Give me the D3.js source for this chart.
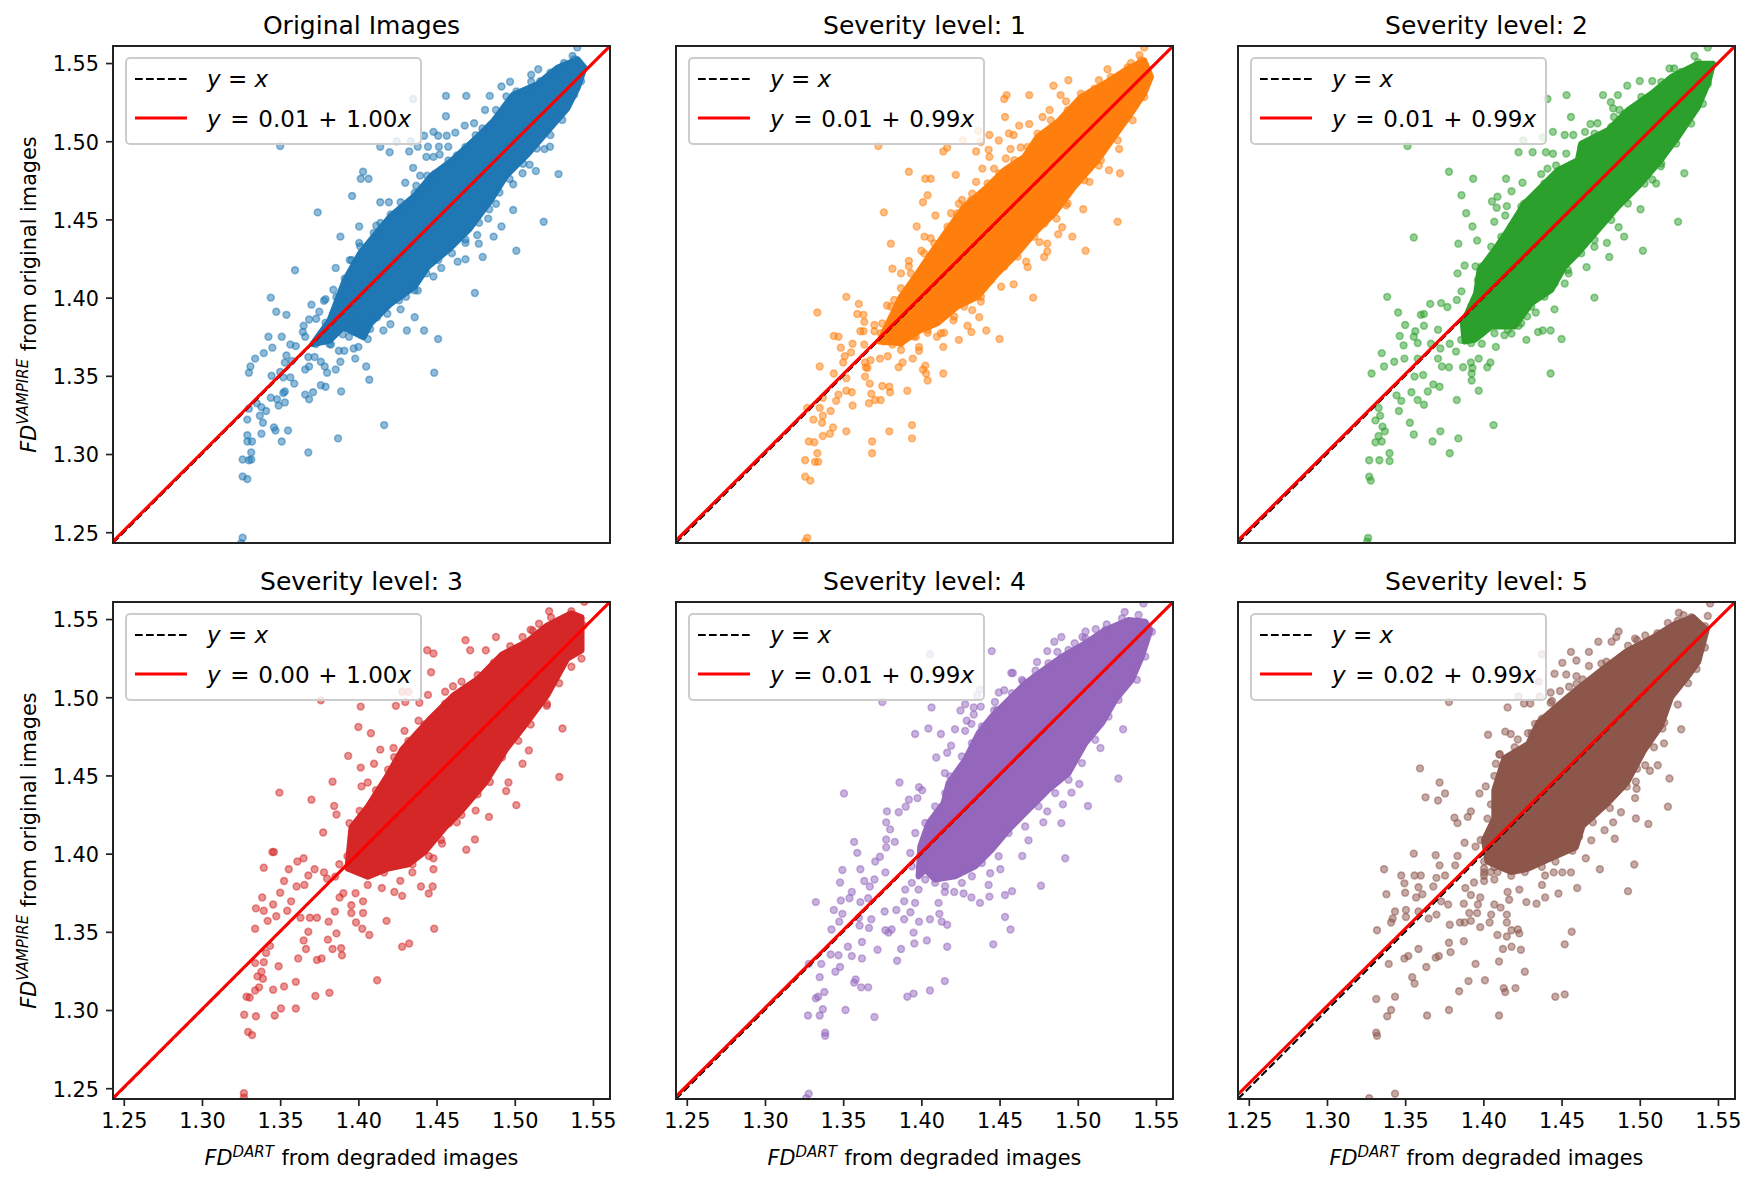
<!DOCTYPE html>
<html>
<head>
<meta charset="utf-8">
<title>FD scatter panels</title>
<script src="https://cdn.jsdelivr.net/npm/d3@7/dist/d3.min.js"></script>
<style>
  html, body { margin: 0; background: #fff; }
  text { font-family: "DejaVu Sans", sans-serif; fill: #000; }
</style>
</head>
<body>
<div id="chart"></div>
<script>
const titles = ["Original Images", "Severity level: 1", "Severity level: 2", "Severity level: 3", "Severity level: 4", "Severity level: 5"];
const colors = ["#1f77b4", "#ff7f0e", "#2ca02c", "#d62728", "#9467bd", "#8c564b"];
const tickValues = [1.25, 1.30, 1.35, 1.40, 1.45, 1.50, 1.55];
const axisLimits = [1.2431, 1.5609];

// fitted line for each panel, and what its legend says
const fitIntercepts = [0.005, 0.0079, 0.0079, 0.002, 0.0079, 0.0148];
const fitSlopes = [0.9968, 0.9949, 0.9949, 0.9988, 0.9949, 0.9905];
const fitLabels = [["0.01", "1.00"], ["0.01", "0.99"], ["0.01", "0.99"], ["0.00", "1.00"], ["0.01", "0.99"], ["0.02", "0.99"]];

// Outline of the solid part of each cloud: too many
// overlapping dots there to read one by one.
const cloudOriginal = [[1.3707,1.3703],[1.3815,1.3853],[1.3913,1.4112],[1.4011,1.4284],[1.4098,1.4392],[1.4207,1.4522],[1.4359,1.4651],[1.4467,1.478],[1.4598,1.4877],[1.475,1.5017],[1.4859,1.5125],[1.4989,1.5297],[1.5141,1.5362],[1.5272,1.547],[1.5402,1.5524],[1.5446,1.547],[1.5402,1.5341],[1.5337,1.5211],[1.5207,1.506],[1.5076,1.4909],[1.4946,1.478],[1.4837,1.4608],[1.4707,1.4435],[1.4576,1.4306],[1.4446,1.4198],[1.4359,1.4069],[1.4207,1.3961],[1.4076,1.3832],[1.4033,1.3746],[1.3902,1.381],[1.3815,1.3724]];
const cloudLevel1 = [[1.373,1.3719],[1.3869,1.4006],[1.3975,1.4155],[1.4061,1.4283],[1.4167,1.4432],[1.4274,1.4581],[1.4423,1.4709],[1.453,1.4815],[1.4658,1.49],[1.4743,1.5028],[1.4871,1.5123],[1.502,1.5283],[1.5169,1.5368],[1.5319,1.5464],[1.5425,1.5517],[1.5468,1.5411],[1.5425,1.5304],[1.534,1.5177],[1.5233,1.5028],[1.5127,1.4879],[1.4978,1.4709],[1.485,1.4538],[1.4722,1.4411],[1.4615,1.4283],[1.4487,1.4155],[1.4359,1.4006],[1.4231,1.3943],[1.4103,1.3836],[1.3997,1.3794],[1.3869,1.3709]];
const cloudLevel2 = [[1.388,1.3719],[1.3869,1.3836],[1.3954,1.4028],[1.3975,1.4177],[1.4071,1.4304],[1.4157,1.4432],[1.4263,1.4602],[1.437,1.4709],[1.4477,1.4815],[1.4604,1.4879],[1.4626,1.4985],[1.4796,1.507],[1.4924,1.5198],[1.5074,1.5304],[1.5202,1.5411],[1.5372,1.5496],[1.5468,1.5496],[1.5436,1.5368],[1.5372,1.5219],[1.5244,1.5028],[1.5116,1.4857],[1.4988,1.4709],[1.486,1.4581],[1.4732,1.4432],[1.4604,1.4283],[1.4519,1.4198],[1.4434,1.4049],[1.4306,1.3964],[1.4199,1.3815],[1.405,1.3815],[1.3943,1.373]];
const cloudLevel3 = [[1.393,1.3905],[1.3956,1.4168],[1.406,1.43],[1.4177,1.4484],[1.4281,1.4668],[1.445,1.4853],[1.4607,1.5011],[1.4763,1.5116],[1.4919,1.5274],[1.5076,1.5353],[1.5206,1.5458],[1.5362,1.5537],[1.5427,1.5511],[1.5427,1.53],[1.5336,1.5247],[1.5206,1.5011],[1.5049,1.48],[1.4945,1.4668],[1.4815,1.4458],[1.4659,1.4274],[1.4555,1.4168],[1.4424,1.4011],[1.432,1.3932],[1.419,1.3905],[1.406,1.3853]];
const cloudLevel4 = [[1.3982,1.3855],[1.3993,1.4047],[1.4046,1.4196],[1.4142,1.4323],[1.4174,1.4451],[1.428,1.46],[1.4366,1.477],[1.4451,1.4877],[1.4579,1.5004],[1.4664,1.5089],[1.475,1.5153],[1.4899,1.526],[1.5048,1.5345],[1.5176,1.543],[1.5325,1.5494],[1.5432,1.5483],[1.5464,1.543],[1.541,1.526],[1.5346,1.5111],[1.524,1.4983],[1.5155,1.4834],[1.5048,1.4706],[1.4941,1.4515],[1.4813,1.4409],[1.4664,1.426],[1.4558,1.4153],[1.4451,1.4026],[1.4344,1.3919],[1.4216,1.3855],[1.4088,1.3834],[1.4025,1.3898]];
const cloudLevel5 = [[1.4026,1.395],[1.4004,1.4087],[1.407,1.4224],[1.407,1.4406],[1.4135,1.4611],[1.4287,1.4702],[1.4352,1.4839],[1.4483,1.4953],[1.4591,1.5044],[1.4765,1.5181],[1.4917,1.5295],[1.5091,1.5386],[1.5222,1.5466],[1.5341,1.5512],[1.5428,1.5432],[1.5374,1.5227],[1.5309,1.5136],[1.52,1.4999],[1.5135,1.4816],[1.5026,1.4657],[1.4917,1.4452],[1.4787,1.4315],[1.4635,1.4178],[1.4591,1.4041],[1.4439,1.3973],[1.4287,1.3904],[1.4178,1.3882]];

// Dots that can be told apart, around the clouds
const dotsOriginal = [[1.326,1.2465],[1.325,1.243],[1.326,1.2856],[1.329,1.284],[1.326,1.2965],[1.3315,1.2965],[1.33,1.296],[1.3315,1.301],[1.368,1.301],[1.329,1.312],[1.332,1.308],[1.329,1.308],[1.387,1.31],[1.338,1.313],[1.351,1.308],[1.355,1.315],[1.347,1.315],[1.346,1.317],[1.329,1.322],[1.339,1.32],[1.337,1.3245],[1.4165,1.3185],[1.341,1.3275],[1.338,1.33],[1.335,1.3325],[1.33,1.329],[1.344,1.336],[1.348,1.335],[1.349,1.331],[1.353,1.333],[1.352,1.339],[1.353,1.34],[1.366,1.338],[1.3685,1.335],[1.371,1.3395],[1.376,1.344],[1.379,1.343],[1.389,1.34],[1.407,1.3475],[1.4485,1.352],[1.359,1.345],[1.3565,1.349],[1.352,1.349],[1.3445,1.35],[1.35,1.3525],[1.33,1.352],[1.331,1.356],[1.334,1.361],[1.3395,1.3645],[1.345,1.368],[1.366,1.354],[1.3685,1.356],[1.38,1.352],[1.3785,1.356],[1.3855,1.354],[1.3885,1.359],[1.405,1.356],[1.398,1.361],[1.376,1.359],[1.372,1.362],[1.368,1.362],[1.354,1.363],[1.353,1.3585],[1.3575,1.3595],[1.3425,1.375],[1.351,1.375],[1.3565,1.37],[1.36,1.369],[1.451,1.3735],[1.442,1.379],[1.431,1.379],[1.436,1.3875],[1.344,1.4],[1.3475,1.391],[1.354,1.389],[1.3595,1.4175],[1.37,1.3955],[1.378,1.398],[1.379,1.399],[1.384,1.405],[1.3855,1.419],[1.365,1.382],[1.3685,1.386],[1.3645,1.378],[1.366,1.375],[1.373,1.3865],[1.375,1.391],[1.379,1.384],[1.3885,1.439],[1.374,1.4545],[1.396,1.465],[1.4005,1.4455],[1.403,1.4805],[1.4015,1.476],[1.4065,1.476],[1.414,1.461],[1.4195,1.461],[1.427,1.461],[1.4115,1.446],[1.4005,1.435],[1.3945,1.424],[1.35,1.497],[1.414,1.4965],[1.42,1.493],[1.435,1.527],[1.4245,1.5],[1.4335,1.5],[1.456,1.529],[1.469,1.529],[1.484,1.529],[1.456,1.516],[1.4915,1.535],[1.497,1.538],[1.5105,1.5425],[1.515,1.546],[1.5105,1.538],[1.54,1.56],[1.537,1.5545],[1.5315,1.55],[1.481,1.52],[1.474,1.5115],[1.468,1.51],[1.462,1.5055],[1.4565,1.5035],[1.448,1.506],[1.451,1.5035],[1.442,1.5035],[1.438,1.4965],[1.4325,1.4935],[1.4445,1.4965],[1.4515,1.4965],[1.4435,1.49],[1.448,1.49],[1.452,1.4915],[1.4575,1.4965],[1.435,1.483],[1.4395,1.478],[1.444,1.478],[1.43,1.4735],[1.437,1.4715],[1.436,1.467],[1.528,1.479],[1.5185,1.4485],[1.499,1.456],[1.501,1.43],[1.4915,1.4455],[1.4865,1.439],[1.4795,1.426],[1.4745,1.403],[1.477,1.4345],[1.476,1.44],[1.483,1.4505],[1.4685,1.4245],[1.4635,1.423],[1.453,1.419],[1.448,1.4135],[1.4685,1.435],[1.488,1.46],[1.5135,1.481],[1.5095,1.485],[1.505,1.4795],[1.499,1.4725],[1.5225,1.4965],[1.519,1.495],[1.438,1.4045],[1.4305,1.4005],[1.427,1.3925],[1.4205,1.383],[1.416,1.379],[1.406,1.3735],[1.4,1.3685],[1.397,1.3675],[1.391,1.366],[1.3875,1.366],[1.3825,1.37],[1.4075,1.38],[1.401,1.381],[1.39,1.3765],[1.394,1.375]];
const dotsLevel1 = [[1.327,1.2464],[1.3257,1.244],[1.3257,1.2855],[1.329,1.283],[1.3257,1.296],[1.332,1.295],[1.334,1.295],[1.3335,1.3005],[1.328,1.308],[1.3315,1.3075],[1.337,1.3115],[1.3415,1.313],[1.3435,1.317],[1.352,1.3145],[1.3685,1.308],[1.3685,1.3005],[1.3795,1.3145],[1.394,1.3185],[1.394,1.31],[1.331,1.322],[1.3365,1.32],[1.337,1.3245],[1.335,1.3295],[1.342,1.3275],[1.327,1.3295],[1.3455,1.334],[1.347,1.338],[1.352,1.3405],[1.3555,1.3395],[1.356,1.331],[1.337,1.336],[1.3665,1.3325],[1.3705,1.3345],[1.374,1.3345],[1.368,1.3385],[1.375,1.3435],[1.3795,1.343],[1.38,1.3395],[1.391,1.3405],[1.367,1.345],[1.364,1.3495],[1.3645,1.3555],[1.3655,1.355],[1.3675,1.36],[1.3735,1.361],[1.3785,1.3625],[1.388,1.3585],[1.3855,1.3555],[1.3945,1.361],[1.3985,1.366],[1.401,1.354],[1.4025,1.3565],[1.403,1.3515],[1.404,1.347],[1.414,1.3515],[1.352,1.3485],[1.344,1.3515],[1.335,1.356],[1.35,1.3585],[1.351,1.3625],[1.355,1.365],[1.3485,1.368],[1.356,1.3705],[1.3635,1.37],[1.364,1.3585],[1.344,1.3755],[1.347,1.375],[1.361,1.3785],[1.363,1.3785],[1.3335,1.3905],[1.352,1.4005],[1.36,1.396],[1.359,1.3895],[1.363,1.389],[1.3635,1.3845],[1.37,1.3825],[1.37,1.3785],[1.378,1.395],[1.375,1.3835],[1.3805,1.4345],[1.376,1.4545],[1.397,1.4455],[1.3815,1.4185],[1.392,1.4235],[1.392,1.42],[1.387,1.4155],[1.4,1.43],[1.402,1.439],[1.406,1.438],[1.401,1.461],[1.404,1.4655],[1.392,1.4805],[1.4025,1.476],[1.406,1.476],[1.422,1.4785],[1.409,1.4525],[1.3725,1.497],[1.414,1.4935],[1.4165,1.496],[1.435,1.4935],[1.4265,1.5005],[1.4365,1.5065],[1.438,1.4995],[1.453,1.527],[1.4545,1.5295],[1.469,1.5295],[1.4535,1.5155],[1.4845,1.5355],[1.494,1.539],[1.489,1.5295],[1.4925,1.5255],[1.482,1.52],[1.4775,1.5155],[1.469,1.511],[1.4625,1.51],[1.456,1.505],[1.459,1.504],[1.4435,1.504],[1.4495,1.5005],[1.443,1.4945],[1.4435,1.49],[1.454,1.489],[1.457,1.495],[1.4635,1.496],[1.439,1.4825],[1.4465,1.4825],[1.435,1.474],[1.4325,1.4665],[1.426,1.4625],[1.424,1.46],[1.419,1.454],[1.5135,1.539],[1.519,1.546],[1.5395,1.555],[1.5425,1.56],[1.534,1.55],[1.5255,1.4485],[1.505,1.43],[1.5035,1.4565],[1.4965,1.439],[1.4875,1.4405],[1.49,1.445],[1.4865,1.4505],[1.4805,1.4345],[1.4805,1.4295],[1.4785,1.426],[1.4755,1.4355],[1.4715,1.4],[1.468,1.4195],[1.467,1.423],[1.459,1.4085],[1.451,1.407],[1.527,1.4795],[1.52,1.4815],[1.5265,1.495],[1.5135,1.4845],[1.5075,1.474],[1.4925,1.459],[1.45,1.3735],[1.4415,1.379],[1.437,1.3875],[1.438,1.3975],[1.432,1.378],[1.4295,1.382],[1.424,1.373],[1.414,1.3685],[1.4205,1.3855],[1.4145,1.3775],[1.3985,1.3685],[1.387,1.3665],[1.3815,1.37],[1.376,1.372],[1.41,1.375],[1.404,1.3775],[1.3965,1.375],[1.4325,1.392]];
const dotsLevel2 = [[1.3263,1.2464],[1.3257,1.244],[1.327,1.2855],[1.328,1.283],[1.327,1.296],[1.3335,1.296],[1.34,1.2955],[1.34,1.3005],[1.3785,1.3005],[1.331,1.3075],[1.335,1.308],[1.333,1.3115],[1.337,1.3145],[1.3355,1.3175],[1.3675,1.308],[1.3725,1.3145],[1.384,1.31],[1.3555,1.3125],[1.353,1.32],[1.4065,1.3185],[1.331,1.3215],[1.334,1.3245],[1.333,1.3295],[1.346,1.3275],[1.3475,1.334],[1.3445,1.3375],[1.354,1.3395],[1.358,1.3345],[1.362,1.3315],[1.3645,1.34],[1.368,1.3445],[1.372,1.343],[1.383,1.3345],[1.397,1.3405],[1.3925,1.347],[1.3925,1.3515],[1.393,1.355],[1.443,1.3515],[1.3285,1.3515],[1.3365,1.356],[1.343,1.359],[1.335,1.3645],[1.3495,1.361],[1.358,1.361],[1.356,1.3495],[1.3615,1.3505],[1.371,1.361],[1.3735,1.356],[1.378,1.3555],[1.387,1.3555],[1.392,1.3585],[1.397,1.361],[1.4025,1.3555],[1.4045,1.3585],[1.408,1.3685],[1.399,1.3705],[1.3465,1.3755],[1.349,1.3695],[1.358,1.371],[1.3555,1.375],[1.3565,1.3785],[1.35,1.3825],[1.362,1.382],[1.3455,1.3905],[1.3385,1.4005],[1.36,1.389],[1.362,1.3895],[1.366,1.396],[1.373,1.3965],[1.377,1.394],[1.371,1.3795],[1.3665,1.3705],[1.3725,1.3675],[1.3785,1.3705],[1.3825,1.3655],[1.45,1.3735],[1.443,1.379],[1.438,1.379],[1.435,1.378],[1.4275,1.373],[1.4455,1.3925],[1.4335,1.3905],[1.428,1.388],[1.4225,1.382],[1.418,1.377],[1.4135,1.376],[1.471,1.4],[1.466,1.4195],[1.4545,1.4155],[1.452,1.409],[1.4805,1.426],[1.471,1.4325],[1.479,1.435],[1.49,1.439],[1.4865,1.445],[1.502,1.43],[1.5245,1.4485],[1.5005,1.4565],[1.5285,1.4795],[1.5105,1.473],[1.508,1.4755],[1.5135,1.484],[1.3555,1.4385],[1.378,1.4805],[1.3935,1.476],[1.386,1.4655],[1.389,1.454],[1.393,1.4455],[1.384,1.4345],[1.396,1.4365],[1.3835,1.4155],[1.388,1.4205],[1.395,1.42],[1.383,1.3985],[1.386,1.404],[1.407,1.4485],[1.4055,1.4615],[1.409,1.4645],[1.4085,1.4575],[1.4145,1.476],[1.425,1.4735],[1.418,1.468],[1.415,1.4585],[1.414,1.4525],[1.426,1.46],[1.3515,1.497],[1.4225,1.493],[1.4315,1.493],[1.44,1.493],[1.4445,1.492],[1.4255,1.5005],[1.438,1.5025],[1.441,1.527],[1.4532,1.5295],[1.4765,1.5295],[1.486,1.5295],[1.4815,1.525],[1.483,1.521],[1.487,1.52],[1.456,1.5155],[1.492,1.5355],[1.5,1.5385],[1.508,1.5385],[1.535,1.5545],[1.5435,1.56],[1.4445,1.506],[1.452,1.504],[1.4575,1.504],[1.465,1.506],[1.4685,1.511],[1.473,1.5115],[1.4835,1.5155],[1.441,1.4825],[1.437,1.479],[1.4465,1.4845],[1.519,1.5465],[1.522,1.5465]];
const dotsLevel3 = [[1.3268,1.2468],[1.3268,1.244],[1.3295,1.286],[1.332,1.284],[1.327,1.297],[1.3345,1.296],[1.3465,1.2965],[1.3505,1.301],[1.36,1.301],[1.3285,1.3085],[1.3305,1.308],[1.334,1.3125],[1.3365,1.3145],[1.3455,1.313],[1.3525,1.315],[1.36,1.318],[1.3725,1.309],[1.3815,1.311],[1.412,1.319],[1.3355,1.3215],[1.339,1.32],[1.338,1.3245],[1.334,1.33],[1.3395,1.3305],[1.349,1.328],[1.3615,1.333],[1.3665,1.339],[1.3735,1.332],[1.3765,1.333],[1.3835,1.339],[1.389,1.3395],[1.3895,1.335],[1.3805,1.345],[1.386,1.349],[1.365,1.3445],[1.368,1.35],[1.381,1.3565],[1.3985,1.356],[1.4025,1.352],[1.407,1.348],[1.418,1.357],[1.428,1.3405],[1.4325,1.3425],[1.4485,1.352],[1.3435,1.341],[1.341,1.3365],[1.334,1.352],[1.342,1.357],[1.3345,1.365],[1.3395,1.3635],[1.3385,1.372],[1.3455,1.3675],[1.3475,1.36],[1.3545,1.3635],[1.363,1.359],[1.369,1.359],[1.3735,1.359],[1.385,1.363],[1.3955,1.362],[1.403,1.362],[1.35,1.375],[1.3525,1.3825],[1.3605,1.379],[1.357,1.3695],[1.3655,1.38],[1.3395,1.391],[1.345,1.401],[1.346,1.401],[1.3555,1.39],[1.361,1.395],[1.365,1.397],[1.368,1.386],[1.372,1.39],[1.378,1.388],[1.3495,1.439],[1.37,1.4345],[1.3775,1.4135],[1.3835,1.446],[1.3935,1.4625],[1.4,1.481],[1.408,1.477],[1.376,1.498],[1.4015,1.494],[1.3845,1.4305],[1.386,1.425],[1.4015,1.455],[1.402,1.443],[1.41,1.4575],[1.406,1.4455],[1.414,1.4665],[1.4225,1.4675],[1.4295,1.4785],[1.424,1.4945],[1.43,1.497],[1.428,1.5035],[1.432,1.5035],[1.4385,1.485],[1.444,1.53],[1.448,1.528],[1.4465,1.516],[1.4445,1.5015],[1.439,1.4965],[1.4685,1.5365],[1.4715,1.53],[1.488,1.5385],[1.4815,1.53],[1.466,1.51],[1.4605,1.507],[1.4555,1.5035],[1.522,1.555],[1.5445,1.561],[1.505,1.5385],[1.5115,1.5425],[1.5155,1.547],[1.5285,1.449],[1.5305,1.48],[1.509,1.466],[1.505,1.4575],[1.501,1.431],[1.4945,1.44],[1.496,1.4455],[1.4835,1.4235],[1.4745,1.409],[1.469,1.4025],[1.475,1.4275],[1.463,1.42],[1.4535,1.4065],[1.448,1.397],[1.448,1.39],[1.4475,1.379],[1.445,1.3745],[1.44,1.379],[1.4345,1.388],[1.428,1.373],[1.423,1.3755],[1.415,1.378],[1.403,1.3695],[1.3955,1.367],[1.388,1.372],[1.5205,1.4945]];
const dotsLevel4 = [[1.328,1.2465],[1.3263,1.2436],[1.3385,1.2855],[1.3385,1.2835],[1.3275,1.2965],[1.335,1.2965],[1.337,1.3005],[1.3515,1.3],[1.37,1.2955],[1.3325,1.3075],[1.334,1.3085],[1.338,1.3115],[1.391,1.3085],[1.395,1.3105],[1.4055,1.3125],[1.415,1.3185],[1.357,1.3175],[1.358,1.3195],[1.3615,1.3145],[1.366,1.3145],[1.335,1.321],[1.345,1.3245],[1.348,1.3275],[1.336,1.3295],[1.328,1.3295],[1.342,1.3355],[1.347,1.335],[1.3555,1.3345],[1.362,1.333],[1.353,1.3405],[1.362,1.3435],[1.372,1.3385],[1.387,1.339],[1.3845,1.3315],[1.3955,1.3425],[1.4035,1.3445],[1.4165,1.3405],[1.446,1.342],[1.457,1.3515],[1.4535,1.3595],[1.4765,1.3795],[1.492,1.397],[1.4895,1.4195],[1.5065,1.4305],[1.526,1.448],[1.529,1.4795],[1.5145,1.4675],[1.501,1.4445],[1.496,1.439],[1.4905,1.4315],[1.4805,1.427],[1.478,1.42],[1.4685,1.4085],[1.4645,1.3985],[1.4535,1.3735],[1.458,1.376],[1.444,1.3875],[1.4505,1.39],[1.443,1.38],[1.4435,1.3725],[1.4375,1.3685],[1.432,1.372],[1.427,1.3745],[1.421,1.3755],[1.415,1.3755],[1.411,1.3685],[1.4115,1.3615],[1.4165,1.3545],[1.413,1.3565],[1.4055,1.358],[1.3985,1.3565],[1.395,1.3495],[1.379,1.3495],[1.377,1.351],[1.381,1.3515],[1.3665,1.3525],[1.368,1.358],[1.36,1.359],[1.3605,1.354],[1.3765,1.363],[1.384,1.364],[1.389,1.358],[1.393,1.3625],[1.396,1.3685],[1.389,1.3695],[1.3425,1.3515],[1.3475,1.3565],[1.3495,1.3615],[1.344,1.364],[1.3325,1.369],[1.3485,1.37],[1.354,1.3715],[1.3555,1.3755],[1.348,1.3815],[1.3495,1.3895],[1.361,1.39],[1.3635,1.3825],[1.367,1.379],[1.37,1.3835],[1.361,1.369],[1.366,1.3715],[1.357,1.4075],[1.359,1.4005],[1.3505,1.4385],[1.386,1.4455],[1.3705,1.395],[1.3735,1.398],[1.377,1.388],[1.3775,1.404],[1.3775,1.409],[1.383,1.4075],[1.3775,1.42],[1.38,1.4155],[1.378,1.427],[1.3855,1.4265],[1.392,1.4345],[1.39,1.43],[1.3975,1.4355],[1.3985,1.4425],[1.4005,1.4405],[1.4095,1.4615],[1.396,1.4765],[1.4045,1.48],[1.4125,1.4765],[1.4215,1.4795],[1.428,1.4785],[1.419,1.469],[1.4165,1.4645],[1.415,1.4515],[1.375,1.497],[1.4065,1.4935],[1.425,1.4915],[1.428,1.4955],[1.4335,1.4935],[1.4335,1.489],[1.438,1.494],[1.429,1.485],[1.432,1.483],[1.4465,1.4915],[1.4055,1.5275],[1.445,1.5295],[1.4375,1.505],[1.4355,1.501],[1.4495,1.503],[1.453,1.5045],[1.447,1.497],[1.4575,1.5155],[1.4585,1.5155],[1.465,1.51],[1.474,1.5225],[1.473,1.517],[1.4805,1.5295],[1.485,1.5355],[1.4895,1.5385],[1.487,1.529],[1.4925,1.526],[1.498,1.5345],[1.503,1.5385],[1.505,1.542],[1.5115,1.5435],[1.5185,1.5465],[1.53,1.5545],[1.542,1.56]];
const dotsLevel5 = [[1.3435,1.2465],[1.327,1.2436],[1.3315,1.2855],[1.332,1.2835],[1.3315,1.307],[1.3435,1.3085],[1.341,1.3],[1.3385,1.296],[1.364,1.2965],[1.378,1.3],[1.41,1.2965],[1.3845,1.312],[1.3905,1.3185],[1.401,1.319],[1.413,1.314],[1.414,1.3115],[1.4205,1.314],[1.446,1.3085],[1.452,1.31],[1.4265,1.3245],[1.41,1.331],[1.395,1.3295],[1.3635,1.3275],[1.3545,1.321],[1.356,1.317],[1.3395,1.3295],[1.3495,1.333],[1.352,1.3345],[1.3695,1.3335],[1.3715,1.3345],[1.3585,1.339],[1.379,1.337],[1.378,1.343],[1.3875,1.344],[1.4125,1.339],[1.418,1.3405],[1.424,1.3385],[1.452,1.342],[1.4565,1.35],[1.409,1.348],[1.415,1.347],[1.423,1.349],[1.422,1.3515],[1.418,1.351],[1.332,1.351],[1.341,1.356],[1.342,1.3585],[1.3435,1.363],[1.3505,1.364],[1.3505,1.3595],[1.365,1.3585],[1.3585,1.363],[1.37,1.361],[1.3785,1.3545],[1.385,1.356],[1.388,1.356],[1.391,1.362],[1.396,1.362],[1.398,1.353],[1.392,1.357],[1.404,1.356],[1.405,1.361],[1.415,1.361],[1.415,1.356],[1.338,1.374],[1.35,1.375],[1.3475,1.386],[1.3495,1.381],[1.3365,1.39],[1.356,1.386],[1.36,1.386],[1.3585,1.3785],[1.357,1.372],[1.361,1.374],[1.368,1.379],[1.37,1.3845],[1.373,1.3695],[1.3775,1.3675],[1.3875,1.368],[1.3965,1.3675],[1.398,1.372],[1.407,1.3675],[1.411,1.3655],[1.4165,1.3705],[1.4275,1.369],[1.434,1.368],[1.4395,1.372],[1.3555,1.4],[1.3695,1.399],[1.372,1.3925],[1.3755,1.386],[1.382,1.3925],[1.3835,1.3985],[1.388,1.407],[1.395,1.4045],[1.3595,1.4545],[1.372,1.4455],[1.3755,1.4385],[1.363,1.436],[1.371,1.434],[1.3815,1.423],[1.3835,1.4195],[1.39,1.4235],[1.392,1.427],[1.3975,1.4385],[1.4015,1.443],[1.403,1.476],[1.414,1.478],[1.4175,1.4765],[1.408,1.4575],[1.4105,1.4635],[1.418,1.459],[1.422,1.473],[1.4285,1.477],[1.433,1.483],[1.378,1.497],[1.4155,1.4935],[1.426,1.496],[1.43,1.496],[1.4225,1.5005],[1.436,1.5005],[1.4355,1.51],[1.4375,1.5275],[1.4455,1.515],[1.4505,1.522],[1.456,1.529],[1.4595,1.5235],[1.4675,1.52],[1.4675,1.529],[1.453,1.5145],[1.4595,1.5135],[1.4595,1.5085],[1.443,1.503],[1.449,1.504],[1.443,1.4965],[1.4735,1.5355],[1.482,1.5355],[1.4865,1.542],[1.485,1.5385],[1.4755,1.5215],[1.4925,1.533],[1.497,1.5375],[1.5035,1.5395],[1.518,1.5475],[1.525,1.554],[1.528,1.5525],[1.545,1.56],[1.5435,1.552],[1.5265,1.4795],[1.519,1.448],[1.518,1.43],[1.5055,1.419],[1.4975,1.4225],[1.497,1.4355],[1.498,1.4415],[1.4975,1.446],[1.5065,1.453],[1.5115,1.4565],[1.5035,1.4565],[1.5155,1.4705],[1.5145,1.48],[1.488,1.4265],[1.483,1.42],[1.4775,1.415],[1.484,1.4095],[1.4965,1.393],[1.4925,1.376],[1.4745,1.39],[1.469,1.4085],[1.4655,1.397],[1.46,1.378],[1.456,1.388],[1.4505,1.388],[1.448,1.3745],[1.445,1.388],[1.4395,1.386],[1.4375,1.38],[1.423,1.377],[1.4155,1.3755],[1.407,1.3835],[1.4005,1.3825],[1.4005,1.388],[1.394,1.3815],[1.3885,1.378],[1.392,1.3735],[1.4005,1.395],[1.407,1.3915]];

// Dots sticking out of the edge of each cloud
const edgeOriginal = [[1.4207,1.4532],[1.4261,1.4554],[1.4315,1.4597],[1.438,1.4651],[1.4435,1.4705],[1.4489,1.4791],[1.4576,1.4877],[1.463,1.4909],[1.4685,1.4963],[1.475,1.5039],[1.4793,1.5082],[1.488,1.52],[1.4946,1.5287],[1.5011,1.5319],[1.5087,1.533],[1.5163,1.5384],[1.5228,1.5438],[1.5315,1.5481],[1.538,1.5524],[1.5424,1.5384],[1.538,1.5297],[1.5304,1.5136],[1.5228,1.5039],[1.5141,1.4953],[1.5054,1.4856],[1.4967,1.4759],[1.4902,1.4672],[1.4837,1.4565],[1.4772,1.4478],[1.4685,1.4371],[1.4598,1.4284],[1.4511,1.4241],[1.4435,1.4155],[1.4359,1.4047],[1.4261,1.3983],[1.4185,1.3897],[1.412,1.3875],[1.4033,1.381],[1.3946,1.381],[1.3859,1.3789],[1.3815,1.3703],[1.3728,1.3703],[1.3989,1.3875],[1.3859,1.4004],[1.3913,1.4123],[1.3957,1.4241],[1.4011,1.4328],[1.4098,1.4414],[1.4141,1.4478]];
const edgeLevel1 = [[1.3869,1.406],[1.3933,1.4155],[1.4018,1.4283],[1.4082,1.4347],[1.4167,1.4453],[1.4231,1.4538],[1.4317,1.4623],[1.4423,1.473],[1.4498,1.4794],[1.4594,1.4879],[1.4679,1.4964],[1.4743,1.5049],[1.4828,1.5134],[1.4935,1.5198],[1.502,1.5304],[1.5106,1.5336],[1.5212,1.5411],[1.5319,1.5474],[1.5404,1.5517],[1.5457,1.5411],[1.5425,1.5283],[1.5351,1.5134],[1.5255,1.5006],[1.5148,1.4879],[1.5042,1.4751],[1.4935,1.4602],[1.4786,1.4474],[1.4722,1.4389],[1.4615,1.4262],[1.453,1.4198],[1.4445,1.4113],[1.4381,1.4006],[1.4274,1.3943],[1.421,1.3879],[1.4125,1.3772],[1.404,1.3794],[1.3954,1.3751],[1.3869,1.3709],[1.3784,1.3751],[1.3741,1.3772],[1.3805,1.3943],[1.3826,1.3985]];
const edgeLevel2 = [[1.3922,1.3943],[1.3965,1.4113],[1.3987,1.4198],[1.405,1.4326],[1.4114,1.4389],[1.4178,1.4453],[1.4242,1.4581],[1.4306,1.4602],[1.4391,1.473],[1.4477,1.4804],[1.453,1.4921],[1.4626,1.4964],[1.4711,1.5049],[1.4818,1.5091],[1.4903,1.5177],[1.501,1.5283],[1.5138,1.5379],[1.5265,1.5443],[1.5372,1.5506],[1.5457,1.5485],[1.5436,1.5368],[1.5404,1.524],[1.5329,1.5113],[1.5233,1.4985],[1.5138,1.4857],[1.5031,1.473],[1.4924,1.4602],[1.4818,1.4496],[1.4711,1.4368],[1.4626,1.4283],[1.454,1.4177],[1.4455,1.4091],[1.4391,1.4006],[1.4306,1.3943],[1.4242,1.3836],[1.4157,1.3794],[1.4071,1.3772],[1.3986,1.3772],[1.3922,1.3709],[1.3858,1.373],[1.388,1.3815]];
const edgeLevel3 = [[1.3956,1.401],[1.3943,1.4195],[1.4008,1.4274],[1.4112,1.4405],[1.419,1.4537],[1.4229,1.4616],[1.432,1.4721],[1.4424,1.4826],[1.4555,1.4958],[1.4659,1.5037],[1.4763,1.5142],[1.4867,1.5221],[1.4971,1.5326],[1.5102,1.5432],[1.5232,1.5511],[1.5362,1.555],[1.544,1.5458],[1.5427,1.5247],[1.5362,1.5195],[1.5284,1.5089],[1.5206,1.4958],[1.5102,1.4826],[1.5023,1.4721],[1.4919,1.4616],[1.4841,1.4458],[1.4763,1.4379],[1.4659,1.4247],[1.4581,1.4195],[1.4529,1.4089],[1.4451,1.3984],[1.4346,1.3932],[1.4268,1.3826],[1.4164,1.3879],[1.406,1.38],[1.3982,1.3747],[1.3904,1.3747],[1.3852,1.3853],[1.38,1.384],[1.3878,1.3932],[1.393,1.3984]];
const edgeLevel4 = [[1.3929,1.4004],[1.3961,1.4132],[1.4025,1.4196],[1.4088,1.4302],[1.4152,1.4387],[1.4184,1.4494],[1.4259,1.4621],[1.4323,1.4706],[1.4387,1.4813],[1.4483,1.4919],[1.4579,1.5026],[1.4643,1.5111],[1.4728,1.5132],[1.4813,1.5217],[1.4941,1.5302],[1.5048,1.5377],[1.5176,1.543],[1.5283,1.5504],[1.5389,1.5526],[1.5474,1.5419],[1.5432,1.526],[1.5378,1.5111],[1.5261,1.4983],[1.5197,1.4877],[1.5112,1.4728],[1.5027,1.4579],[1.4941,1.4472],[1.4856,1.4387],[1.4749,1.4302],[1.4664,1.4174],[1.4558,1.4132],[1.4494,1.3983],[1.4387,1.394],[1.4323,1.3855],[1.4259,1.3813],[1.4152,1.3791],[1.4088,1.3813],[1.4025,1.3834],[1.3982,1.377],[1.3939,1.3813],[1.3897,1.377],[1.3939,1.3919]];
const edgeLevel5 = [[1.4004,1.3905],[1.3983,1.4087],[1.4026,1.4224],[1.4048,1.4315],[1.407,1.4497],[1.4102,1.4634],[1.42,1.468],[1.4309,1.4771],[1.4374,1.4862],[1.4439,1.4976],[1.4548,1.5067],[1.4635,1.5113],[1.4787,1.5227],[1.4874,1.525],[1.4983,1.5364],[1.5113,1.5409],[1.5243,1.5489],[1.533,1.5512],[1.5417,1.5455],[1.5417,1.5318],[1.5363,1.5181],[1.5309,1.509],[1.5243,1.4953],[1.5157,1.4839],[1.5091,1.468],[1.4983,1.4543],[1.4917,1.4429],[1.4809,1.4292],[1.47,1.4201],[1.4613,1.411],[1.457,1.4018],[1.4461,1.395],[1.4374,1.3916],[1.4265,1.3882],[1.4178,1.3859],[1.4091,1.3882],[1.4048,1.3882],[1.4004,1.3859]];

const clouds = [cloudOriginal, cloudLevel1, cloudLevel2, cloudLevel3, cloudLevel4, cloudLevel5];
const dots = [
    dotsOriginal.concat(edgeOriginal),
    dotsLevel1.concat(edgeLevel1),
    dotsLevel2.concat(edgeLevel2),
    dotsLevel3.concat(edgeLevel3),
    dotsLevel4.concat(edgeLevel4),
    dotsLevel5.concat(edgeLevel5)
];

const width = 1755, height = 1186;
const panelSize = 497;
const panelLeft = [113, 676, 1238];
const panelTop = [46, 602];

const svg = d3.select("#chart").append("svg")
    .attr("width", width)
    .attr("height", height)
    .style("display", "block")
    .style("background", "#fff");

const x = d3.scaleLinear().domain(axisLimits).range([0, panelSize]);
const y = d3.scaleLinear().domain(axisLimits).range([panelSize, 0]);
const line = d3.line().x(d => x(d[0])).y(d => y(d[1]));

// Mathtext look: italic letters, upright numbers
function addFdLabel(sel, sup, rest) {
    sel.append("tspan").attr("font-style", "italic").text("FD");
    sel.append("tspan").attr("font-style", "italic").attr("font-size", 15).attr("dy", -8).text(sup);
    sel.append("tspan").attr("dy", 8).attr("dx", 1).text(" " + rest);
}

function addLegend(g, i) {
    const legend = g.append("g").attr("transform", "translate(13,12)");
    legend.append("rect")
        .attr("width", 295).attr("height", 86).attr("rx", 4)
        .attr("fill", "#fff").attr("fill-opacity", 0.8)
        .attr("stroke", "#ccc").attr("stroke-width", 2);

    legend.append("line")
        .attr("x1", 9).attr("x2", 61).attr("y1", 21).attr("y2", 21)
        .attr("stroke", "#000").attr("stroke-width", 2).attr("stroke-dasharray", "7.7,3.3");
    legend.append("line")
        .attr("x1", 9).attr("x2", 61).attr("y1", 60).attr("y2", 60)
        .attr("stroke", "#f00").attr("stroke-width", 3.1);

    const t1 = legend.append("text").attr("x", 81).attr("y", 29).attr("font-size", 23).attr("xml:space", "preserve");
    t1.append("tspan").attr("font-style", "italic").text("y");
    t1.append("tspan").text(" = ");
    t1.append("tspan").attr("font-style", "italic").text("x");

    const t2 = legend.append("text").attr("x", 81).attr("y", 69).attr("font-size", 23)
        .attr("xml:space", "preserve").style("word-spacing", "1.4px");
    t2.append("tspan").attr("font-style", "italic").text("y");
    t2.append("tspan").attr("dx", 1).text(" = " + fitLabels[i][0] + " + " + fitLabels[i][1]);
    t2.append("tspan").attr("font-style", "italic").text("x");
}

titles.forEach((title, i) => {
    const col = i % 3, row = Math.floor(i / 3);
    const g = svg.append("g").attr("transform", `translate(${panelLeft[col]},${panelTop[row]})`);

    g.append("clipPath").attr("id", `clip-${i}`)
        .append("rect").attr("width", panelSize).attr("height", panelSize);

    const plot = g.append("g").attr("clip-path", `url(#clip-${i})`);

    plot.append("path")
        .datum(clouds[i])
        .attr("d", d => line(d) + "Z")
        .attr("fill", colors[i])
        .attr("stroke", colors[i])
        .attr("stroke-width", 6)
        .attr("stroke-linejoin", "round");

    plot.append("g").selectAll("circle")
        .data(dots[i])
        .enter().append("circle")
        .attr("cx", d => x(d[0]))
        .attr("cy", d => y(d[1]))
        .attr("r", 3.4)
        .attr("fill", colors[i])
        .attr("fill-opacity", 0.5)
        .attr("stroke", colors[i])
        .attr("stroke-opacity", 0.5)
        .attr("stroke-width", 1.6);

    plot.append("path")
        .datum(axisLimits.map(v => [v, v]))
        .attr("d", line)
        .attr("stroke", "#000").attr("stroke-width", 2)
        .attr("stroke-dasharray", "7.7,3.3").attr("fill", "none");

    plot.append("path")
        .datum(axisLimits.map(v => [v, fitIntercepts[i] + fitSlopes[i] * v]))
        .attr("d", line)
        .attr("stroke", "#f00").attr("stroke-width", 3.1).attr("fill", "none");

    addLegend(g, i);

    g.append("rect")
        .attr("width", panelSize).attr("height", panelSize)
        .attr("fill", "none").attr("stroke", "#222").attr("stroke-width", 2);

    g.append("text")
        .attr("x", panelSize / 2).attr("y", -12)
        .attr("text-anchor", "middle").attr("font-size", 25)
        .text(title);

    if (row === 1) {
        const ax = g.append("g").attr("transform", `translate(0,${panelSize})`)
            .call(d3.axisBottom(x).tickValues(tickValues).tickFormat(d3.format(".2f")).tickSize(7).tickPadding(7));
        ax.select(".domain").remove();
        ax.selectAll("line").attr("stroke", "#222").attr("stroke-width", 1.7);
        ax.selectAll("text").attr("font-size", 20.8).attr("font-family", "DejaVu Sans").attr("fill", "#000");

        const xl = g.append("text")
            .attr("x", panelSize / 2).attr("y", panelSize + 66)
            .attr("text-anchor", "middle").attr("font-size", 20.8)
            .attr("xml:space", "preserve");
        addFdLabel(xl, "DART", "from degraded images");
    }
    if (col === 0) {
        const ay = g.append("g")
            .call(d3.axisLeft(y).tickValues(tickValues).tickFormat(d3.format(".2f")).tickSize(7).tickPadding(7));
        ay.select(".domain").remove();
        ay.selectAll("line").attr("stroke", "#222").attr("stroke-width", 1.7);
        ay.selectAll("text").attr("font-size", 20.8).attr("font-family", "DejaVu Sans")
            .attr("fill", "#000").attr("dy", "0.38em");

        const yl = g.append("text")
            .attr("transform", `translate(-77,${panelSize / 2}) rotate(-90)`)
            .attr("text-anchor", "middle").attr("font-size", 20.8)
            .attr("xml:space", "preserve");
        addFdLabel(yl, "VAMPIRE", "from original images");
    }
});
</script>
</body>
</html>
